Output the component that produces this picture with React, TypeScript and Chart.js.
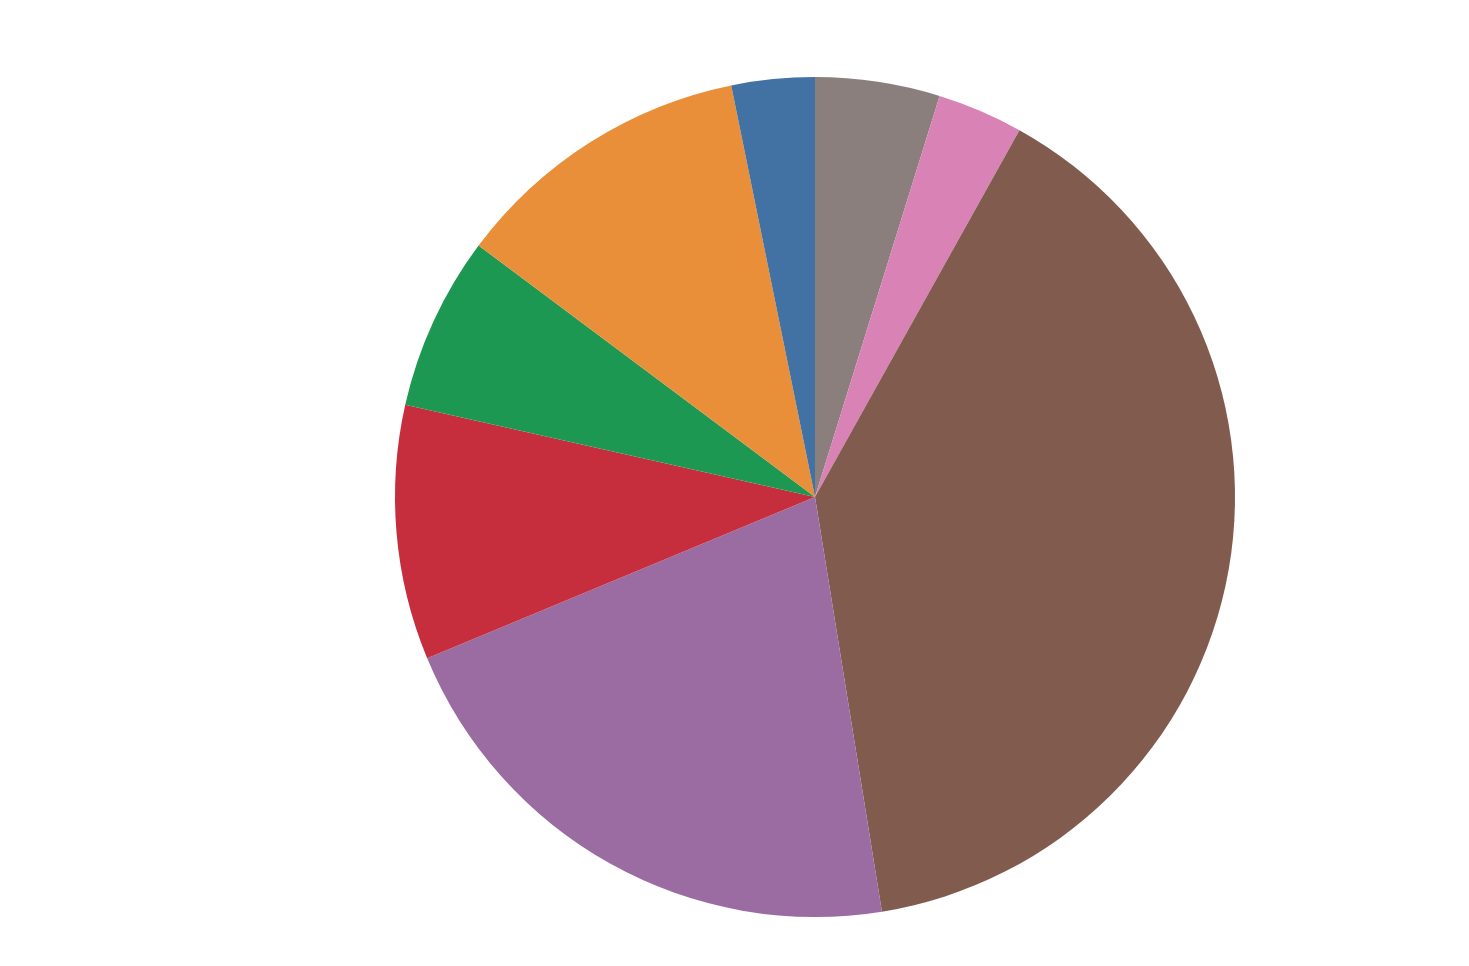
import React, { useEffect, useRef } from "react";
import { Chart, registerables } from "chart.js";

Chart.register(...registerables);

const categories = ["Gray", "Pink", "Brown", "Purple", "Red", "Green", "Orange", "Blue"];
const values = [4.8, 3.3, 39.4, 21.3, 9.8, 6.7, 11.6, 3.2];
const colors = ["#8a7f7d", "#d982b6", "#825b4f", "#9a6ca2", "#c72e3d", "#1d9852", "#e98f3a", "#4272a4"];

export default function App() {
  const ref = useRef<HTMLCanvasElement | null>(null);
  useEffect(() => {
    if (!ref.current) return;
    const chart = new Chart(ref.current, {
      type: "pie",
      data: {
        labels: categories,
        datasets: [
          {
            data: values,
            backgroundColor: colors,
            borderWidth: 0,
          },
        ],
      },
      options: {
        animation: false,
        responsive: false,
        maintainAspectRatio: false,
        layout: { padding: { left: 395, right: 234, top: 77, bottom: 49 } },
        plugins: {
          legend: { display: false },
          tooltip: { enabled: false },
        },
      },
    });
    return () => chart.destroy();
  }, []);
  return (
    <div style={{ position: "fixed", left: 0, top: 0, width: 1469, height: 966, background: "#fff" }}>
      <canvas ref={ref} width={1469} height={966} style={{ display: "block", width: 1469, height: 966 }} />
    </div>
  );
}
